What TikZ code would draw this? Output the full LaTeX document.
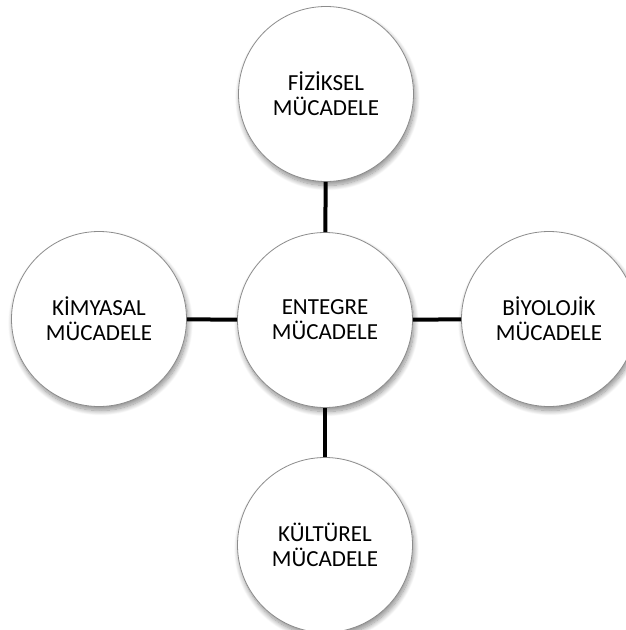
\documentclass[tikz,border=0pt]{standalone}
\usepackage{fontspec}
\setmainfont{Carlito}
\usetikzlibrary{shadows.blur}
\begin{document}
\begin{tikzpicture}[x=1pt,y=-1pt,
  bubble/.style={circle,draw=black!45,line width=0.8pt,fill=white,minimum size=175pt,inner sep=0pt,
    align=center,font=\fontsize{23}{25}\selectfont,
    blur shadow={shadow xshift=1.5pt,shadow yshift=-4pt,shadow blur steps=12,shadow blur radius=5pt,shadow opacity=45}},
  link/.style={line width=4pt,black}]
\useasboundingbox (0,0) rectangle (626,630);
\node[bubble] (c) at (325,320) {ENTEGRE\\MÜCADELE};
\node[bubble] (t) at (326,94) {FİZİKSEL\\MÜCADELE};
\node[bubble] (l) at (99,319) {KİMYASAL\\MÜCADELE};
\node[bubble] (r) at (549,319) {BİYOLOJİK\\MÜCADELE};
\node[bubble] (b) at (325,545) {KÜLTÜREL\\MÜCADELE};
\draw[link] (t) -- (c);
\draw[link] (c) -- (b);
\draw[link] (l) -- (c);
\draw[link] (c) -- (r);
\end{tikzpicture}
\end{document}
